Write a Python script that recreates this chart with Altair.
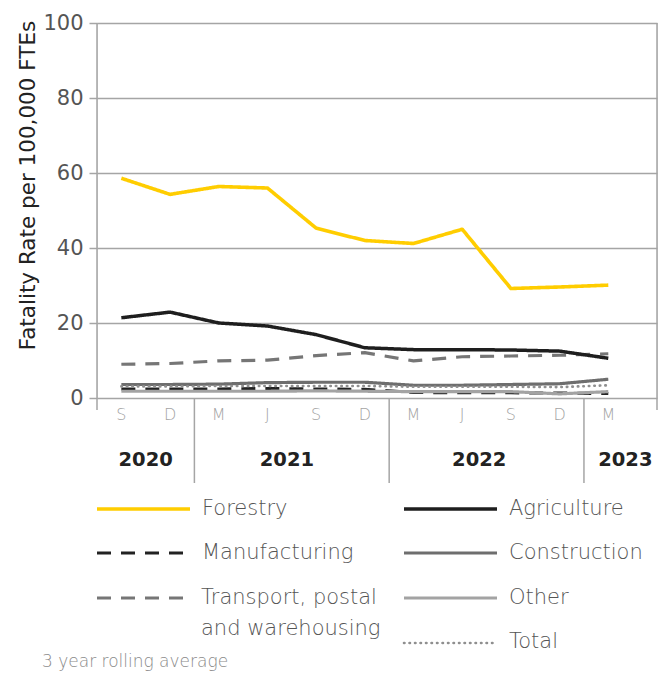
import altair as alt
import pandas as pd

# ---- data ----
periods = ["S", "D", "M", "J", "S", "D", "M", "J", "S", "D", "M"]
years = ["2020", "2021", "2022", "2023"]
year_centers = [0.5, 3.4, 7.35, 10.35]
year_separators = [1.5, 5.5, 9.5]

forestry = [58.6, 54.3, 56.4, 56.0, 45.3, 42.0, 41.2, 45.0, 29.2, 29.6, 30.1]
agriculture = [21.4, 22.9, 20.0, 19.2, 16.9, 13.4, 12.9, 12.9, 12.8, 12.5, 10.6]
manufacturing = [2.4, 2.4, 2.4, 2.5, 2.4, 2.3, 1.5, 1.4, 1.4, 1.3, 1.2]
construction = [3.6, 3.6, 3.7, 4.1, 4.2, 4.2, 3.4, 3.4, 3.6, 3.8, 5.0]
transport = [9.0, 9.2, 9.9, 10.1, 11.3, 12.1, 9.9, 11.0, 11.2, 11.4, 11.8]
other = [1.8, 1.8, 1.8, 1.8, 1.9, 1.8, 1.7, 1.7, 1.7, 1.1, 1.7]
total = [3.1, 3.1, 3.2, 3.2, 3.2, 3.2, 3.0, 3.0, 3.0, 2.9, 3.4]

series_names = ["Forestry", "Agriculture", "Manufacturing", "Construction",
                "Transport, postal and warehousing", "Other", "Total"]
series_values = [forestry, agriculture, manufacturing, construction, transport, other, total]

FONT = "DejaVu Sans"
W, H = 560, 375

styles = {
    "Forestry": dict(color="#FFCD00", dash=[1, 0], width=3.6, cap="butt"),
    "Agriculture": dict(color="#1E1E1E", dash=[1, 0], width=3.5, cap="butt"),
    "Manufacturing": dict(color="#222222", dash=[14, 10], width=3.2, cap="butt"),
    "Construction": dict(color="#6E6E6E", dash=[1, 0], width=3.2, cap="butt"),
    "Transport, postal and warehousing": dict(color="#767676", dash=[14, 10], width=3.2, cap="butt"),
    "Other": dict(color="#A3A3A3", dash=[1, 0], width=3.2, cap="butt"),
    "Total": dict(color="#8F8F8F", dash=[0.5, 5], width=2.6, cap="round"),
}

xscale = alt.Scale(domain=[-0.5, 11])
yscale = alt.Scale(domain=[0, 100], nice=False)
yaxis = alt.Axis(values=[0, 20, 40, 60, 80, 100], grid=True, gridColor="#A5A5A5",
                 gridWidth=1.5, domain=False, tickColor="#A5A5A5", tickWidth=1.5,
                 tickSize=8, labelFontSize=21, labelColor="#555555", labelFont=FONT,
                 labelPadding=6, title="Fatality Rate per 100,000 FTEs",
                 titleFont=FONT, titleFontSize=21.5, titleFontWeight="normal",
                 titleColor="#222222", titleX=-69, titleY=162, titleAngle=270,
                 titleAlign="center", titleBaseline="middle")

# ---- main lines ----
layers = []
for name, vals in zip(series_names, series_values):
    df = pd.DataFrame({"idx": list(range(len(vals))), "value": vals, "series": name})
    st = styles[name]
    layers.append(
        alt.Chart(df).mark_line(color=st["color"], strokeDash=st["dash"], strokeWidth=st["width"],
                                strokeCap=st["cap"], strokeJoin="round")
        .encode(x=alt.X("idx:Q", scale=xscale, axis=None),
                y=alt.Y("value:Q", scale=yscale, axis=yaxis))
    )
# draw forestry / agriculture last so they sit on top
layers = layers[2:] + layers[1:2] + layers[0:1]

# frame rules (left / right borders extending below axis)
frame = pd.DataFrame({"idx": [-0.5, 11]})
frame_rules = alt.Chart(frame).mark_rule(color="#A5A5A5", strokeWidth=1.5).encode(
    x=alt.X("idx:Q", scale=xscale, axis=None), y=alt.value(0), y2=alt.value(H + 12))

# month labels
months_df = pd.DataFrame({"idx": list(range(len(periods))), "label": periods})
month_text = alt.Chart(months_df).mark_text(font=FONT, fontSize=16, color="#A3A3A3",
                                            baseline="middle", fontWeight=300).encode(
    x=alt.X("idx:Q", scale=xscale, axis=None), y=alt.value(H + 17), text="label:N")

# year separators
sep_df = pd.DataFrame({"idx": year_separators})
sep_rules = alt.Chart(sep_df).mark_rule(color="#A5A5A5", strokeWidth=1.5).encode(
    x=alt.X("idx:Q", scale=xscale, axis=None), y=alt.value(H), y2=alt.value(H + 85))

# year labels
years_df = pd.DataFrame({"idx": year_centers, "label": years})
year_text = alt.Chart(years_df).mark_text(font=FONT, fontSize=19.5, fontWeight="bold", color="#222222",
                                          baseline="middle").encode(
    x=alt.X("idx:Q", scale=xscale, axis=None), y=alt.value(H + 62), text="label:N")

main = alt.layer(*layers, frame_rules, sep_rules, month_text, year_text)

# ---- legend (pixel layout, built from the series lists) ----
col_x = [0, 307]
row_y = [486, 530, 575, 620]
legend_slots = [(0, 0), (1, 0), (0, 1), (1, 1), (0, 2), (1, 2), (1, 3)]
line_len = 93

leg_layers = []
text_rows = []
for name, (c, r) in zip(series_names, legend_slots):
    st = styles[name]
    x0 = col_x[c]
    y0 = row_y[r]
    seg = pd.DataFrame({"px": [x0, x0 + line_len], "py": [y0, y0]})
    leg_layers.append(
        alt.Chart(seg).mark_line(color=st["color"], strokeDash=st["dash"], strokeWidth=st["width"],
                                 strokeCap=st["cap"])
        .encode(x=alt.X("px:Q", scale=None, axis=None), y=alt.Y("py:Q", scale=None, axis=None))
    )
    if name.startswith("Transport"):
        text_rows.append({"px": x0 + 104, "py": y0, "label": "Transport, postal"})
        text_rows.append({"px": x0 + 104, "py": y0 + 31, "label": "and warehousing"})
    else:
        text_rows.append({"px": x0 + 105, "py": y0 - (1 if name == "Total" else 0), "label": name})

leg_text = alt.Chart(pd.DataFrame(text_rows)).mark_text(
    font=FONT, fontSize=21, color="#555555", align="left", baseline="middle", fontWeight=300
).encode(x=alt.X("px:Q", scale=None, axis=None), y=alt.Y("py:Q", scale=None, axis=None), text="label:N")

note = alt.Chart(pd.DataFrame({"px": [-55], "py": [639], "label": ["3 year rolling average"]})).mark_text(
    font=FONT, fontSize=17, color="#8A8A8A", align="left", baseline="middle", fontWeight=300
).encode(x=alt.X("px:Q", scale=None, axis=None), y=alt.Y("py:Q", scale=None, axis=None), text="label:N")

legend = alt.layer(*leg_layers, leg_text, note)

chart = alt.layer(main, legend).resolve_scale(x="independent", y="independent").properties(
    width=W, height=H,
    autosize=alt.AutoSizeParams(type="none"),
    padding={"left": 89, "top": 15, "right": 2, "bottom": 276},
).configure_view(stroke=None).configure(background="white")

chart.save("out.html", embed_options={"renderer": "svg", "actions": False})
